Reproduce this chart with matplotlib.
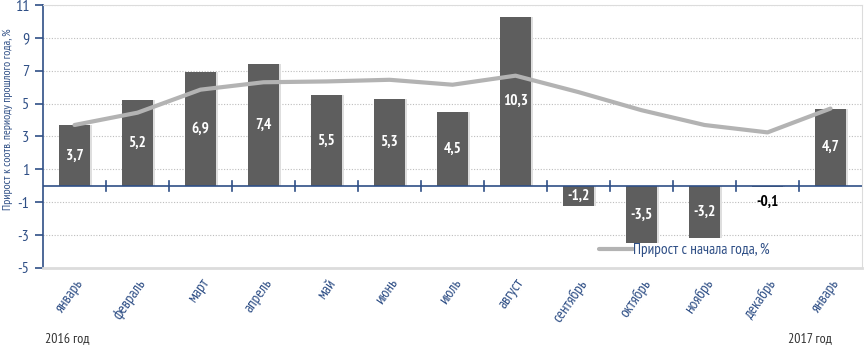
import numpy as np
import matplotlib.pyplot as plt

months = ["январь", "февраль", "март", "апрель", "май", "июнь", "июль",
          "август", "сентябрь", "октябрь", "ноябрь", "декабрь", "январь"]
yoy = [3.7, 5.2, 6.9, 7.4, 5.5, 5.3, 4.5, 10.3, -1.2, -3.5, -3.2, -0.1, 4.7]
ytd = [3.7, 4.45, 5.85, 6.3, 6.35, 6.45, 6.15, 6.7, 5.7, 4.6, 3.7, 3.25, 4.7]

plt.rcParams['font.family'] = ['Liberation Sans Narrow', 'PT Sans Narrow',
                               'Roboto Condensed', 'Liberation Sans', 'DejaVu Sans']
plt.rcParams['axes.unicode_minus'] = False
blue = "#2f4f86"

fig = plt.figure(figsize=(8.64, 3.45), dpi=100)
ax = fig.add_axes([0.0498, 0.2232, 0.9479, 0.7623])

x = np.arange(len(months))
ax.bar(x + 0.025, yoy, width=0.5, color="#dedede", zorder=2)  # soft shadow
ax.bar(x, yoy, width=0.5, color="#5e5e5e", zorder=3)
ax.plot(x, ytd, color="#b3b3b3", lw=3, zorder=4, solid_capstyle="round",
        label="Прирост с начала года, %")

for xi, v in zip(x, yoy):
    txt = f"{v:.1f}".replace(".", ",")
    if abs(v) < 0.5:
        ax.text(xi, v - 0.85, txt, ha="center", va="center", color="black",
                fontsize=11, fontweight="bold", zorder=5)
    else:
        ax.text(xi, v / 2, txt, ha="center", va="center", color="white",
                fontsize=11, fontweight="bold", zorder=5)

ax.set_xlim(-0.5, len(months) - 0.5)
ax.set_ylim(-5, 11)
ax.set_yticks(np.arange(-5, 12, 2))
ax.tick_params(axis="y", colors=blue, labelsize=11.5, length=6, width=1.2, pad=4)
ax.yaxis.grid(True, ls=(0, (1, 1.5)), color="#bdbdbd", lw=0.8, zorder=0)

ax.set_xticks(x)
ax.set_xticklabels(months, rotation=55, ha="right", rotation_mode="anchor",
                   color=blue, fontsize=11)
ax.tick_params(axis="x", length=0, pad=6)
# category separators on the zero line
for b in np.arange(0.5, len(months) - 0.5, 1):
    ax.plot([b, b], [-0.3, 0.3], color=blue, lw=1.2, zorder=6, clip_on=False)
ax.axhline(0, color=blue, lw=1.2, zorder=6)

for side in ["top", "right", "bottom"]:
    ax.spines[side].set_color("#dcdcdc")
ax.spines["bottom"].set_linewidth(2)
ax.spines["left"].set_color(blue)
ax.spines["left"].set_linewidth(1.2)

fig.text(0.009, 0.655, "Прирост к соотв. периоду прошлого года, %", color=blue,
         fontsize=8.5, rotation=90, ha="center", va="center")

ax.legend(loc="center left", bbox_to_anchor=(0.67, 0.068), frameon=False,
          fontsize=11, labelcolor=blue, handlelength=2.2, handletextpad=0.0,
          borderpad=0)

fig.text(0.052, 0.008, "2016 год", fontsize=10, color="#333333")
fig.text(0.912, 0.008, "2017 год", fontsize=10, color="#333333")

fig.savefig("out.png", dpi=100)
